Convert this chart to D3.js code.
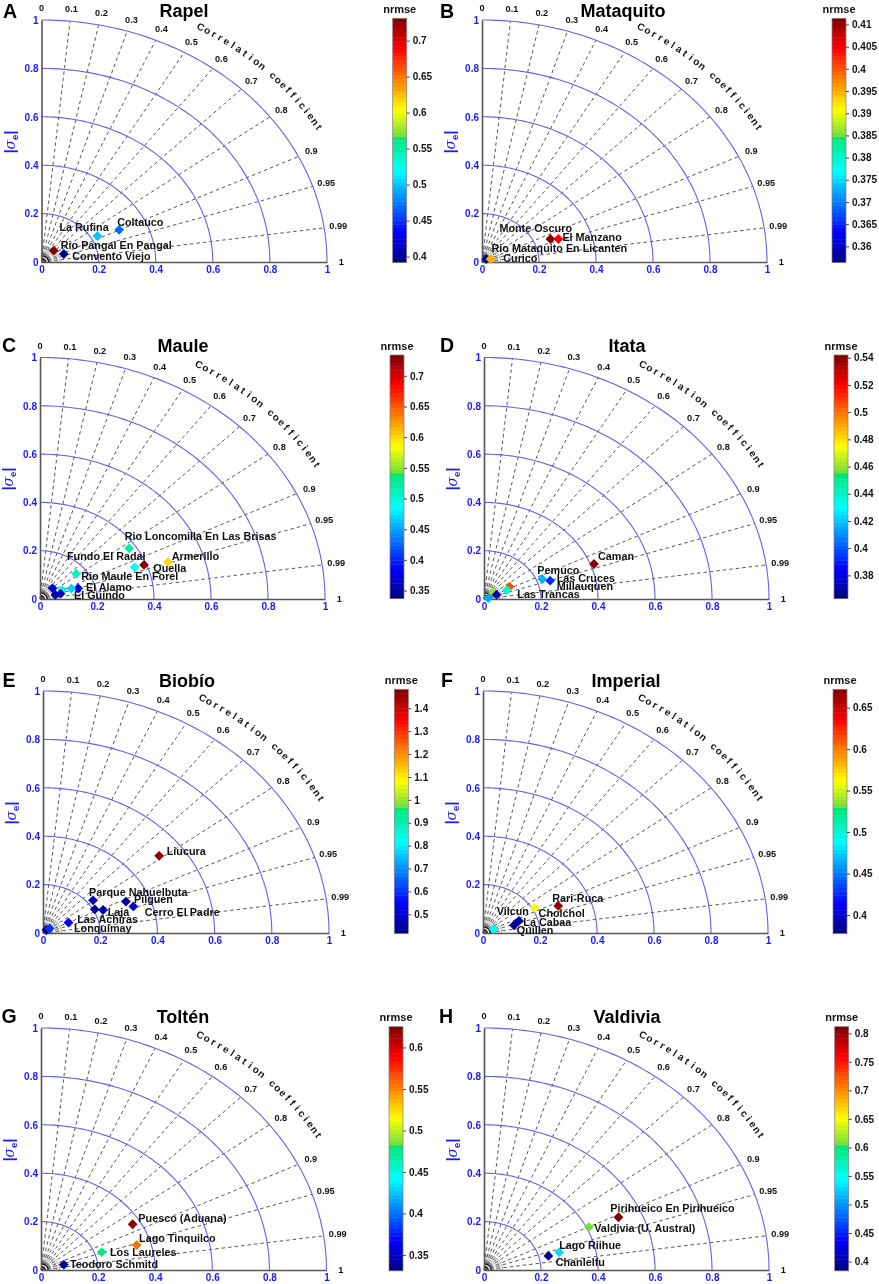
<!DOCTYPE html>
<html><head><meta charset="utf-8">
<script src="https://cdnjs.cloudflare.com/ajax/libs/d3/7.8.5/d3.min.js"></script>
<style>
html,body{margin:0;padding:0;background:#fff}
svg{display:block;filter:blur(0.35px)}
text{font-family:"Liberation Sans",Arial,sans-serif;font-weight:bold}
</style></head><body>
<script>
// ---------- chart values ----------
const sigmaTicks = [0, 0.2, 0.4, 0.6, 0.8, 1];
const corrTicks = [0, 0.1, 0.2, 0.3, 0.4, 0.5, 0.6, 0.7, 0.8, 0.9, 0.95, 0.99, 1];
const nearOriginRings = [0.015, 0.025, 0.035, 0.045, 0.055, 0.065];

const rapelNames = ["Coltauco", "La Rufina", "Rio Pangal En Pangal", "Convento Viejo"];
const rapelX = [0.272, 0.196, 0.043, 0.078];
const rapelY = [0.133, 0.107, 0.047, 0.033];
const rapelNrmse = [0.47, 0.50, 0.73, 0.393];
const rapelScale = [0.392, 0.731];
const rapelTicks = ["0.4", "0.45", "0.5", "0.55", "0.6", "0.65", "0.7"];

const mataquitoNames = ["Monte Oscuro", "El Manzano", "Curico", "Rio Mataquito En Licanten"];
const mataquitoX = [0.24, 0.268, 0.015, 0.03];
const mataquitoY = [0.095, 0.095, 0.012, 0.012];
const mataquitoNrmse = [0.411, 0.405, 0.357, 0.395];
const mataquitoScale = [0.3564, 0.4114];
const mataquitoTicks = ["0.36", "0.365", "0.37", "0.375", "0.38", "0.385", "0.39", "0.395", "0.4", "0.405", "0.41"];

const mauleNames = ["Rio Loncomilla En Las Brisas", "Fundo El Radal", "Armerillo", "Quella", "Rio Maule En Forel", "El Alamo", "El Guindo", "", "", "", ""];
const mauleX = [0.313, 0.332, 0.449, 0.365, 0.127, 0.134, 0.054, 0.077, 0.11, 0.044, 0.072];
const mauleY = [0.21, 0.131, 0.153, 0.141, 0.105, 0.044, 0.017, 0.037, 0.043, 0.044, 0.022];
const mauleNrmse = [0.52, 0.49, 0.6, 0.73, 0.51, 0.377, 0.345, 0.5, 0.468, 0.37, 0.36];
const mauleScale = [0.337, 0.734];
const mauleTicks = ["0.35", "0.4", "0.45", "0.5", "0.55", "0.6", "0.65", "0.7"];

const itataNames = ["Caman", "Pemuco", "Las Cruces", "Millauquen", "Las Trancas", "", "", ""];
const itataX = [0.386, 0.204, 0.232, 0.09, 0.08, 0.033, 0.044, 0.015];
const itataY = [0.145, 0.083, 0.076, 0.051, 0.037, 0.028, 0.018, 0.004];
const itataNrmse = [0.54, 0.417, 0.393, 0.506, 0.438, 0.46, 0.37, 0.415];
const itataScale = [0.363, 0.542];
const itataTicks = ["0.38", "0.4", "0.42", "0.44", "0.46", "0.48", "0.5", "0.52", "0.54"];

const biobioNames = ["Liucura", "Parque Nahuelbuta", "Pilguen", "Cerro El Padre", "Laja", "", "Las Achiras", "", "Lonquimay"];
const biobioX = [0.406, 0.175, 0.29, 0.316, 0.21, 0.181, 0.089, 0.012, 0.023];
const biobioY = [0.319, 0.135, 0.13, 0.11, 0.095, 0.098, 0.043, 0.012, 0.019];
const biobioNrmse = [1.47, 0.46, 0.46, 0.5, 0.46, 0.45, 0.55, 0.43, 0.6];
const biobioScale = [0.417, 1.483];
const biobioTicks = ["0.5", "0.6", "0.7", "0.8", "0.9", "1", "1.1", "1.2", "1.3", "1.4"];

const imperialNames = ["Rari-Ruca", "Cholchol", "La Cabaa", "Quillen", "Vilcun"];
const imperialX = [0.264, 0.181, 0.126, 0.109, 0.037];
const imperialY = [0.112, 0.105, 0.05, 0.032, 0.017];
const imperialNrmse = [0.665, 0.56, 0.39, 0.385, 0.493];
const imperialScale = [0.378, 0.672];
const imperialTicks = ["0.4", "0.45", "0.5", "0.55", "0.6", "0.65"];

const toltenNames = ["Puesco (Aduana)", "Lago Tinquilco", "Los Laureles", "Teodoro Schmitd"];
const toltenX = [0.321, 0.335, 0.213, 0.08];
const toltenY = [0.189, 0.103, 0.074, 0.022];
const toltenNrmse = [0.62, 0.557, 0.478, 0.34];
const toltenScale = [0.331, 0.625];
const toltenTicks = ["0.35", "0.4", "0.45", "0.5", "0.55", "0.6"];

const valdiviaNames = ["Pirihueico En Pirihueico", "Valdivia (U. Austral)", "Lago Riihue", "Chanlelfu"];
const valdiviaX = [0.472, 0.368, 0.264, 0.226];
const valdiviaY = [0.218, 0.177, 0.073, 0.058];
const valdiviaNrmse = [0.81, 0.606, 0.53, 0.39];
const valdiviaScale = [0.384, 0.8116];
const valdiviaTicks = ["0.4", "0.45", "0.5", "0.55", "0.6", "0.65", "0.7", "0.75", "0.8"];

// ---------- layout (pixels), separate from the values ----------
const labelOffsets = {
  A: [[-2,-8],[-38,-9],[7,-5],[8.5,2]],
  B: [[-51,-11],[4,-2],[17,-1],[1,-11]],
  C: [[-4.5,-11.6],[-67.6,-11.4],[3.7,-6],[9.3,3.3],[5,2.7],[7.8,-0.7],[18.6,0.8]],
  D: [[4,-7.7],[-4.8,-9],[6.6,-2.6],[47,-0.7],[10.5,4]],
  E: [[7.6,-4.5],[-4,-8.6],[8,-2.2],[11.3,6.3],[4.7,2.7],[0,0],[8.8,-2.9],[0,0],[24.4,-0.4]],
  F: [[-6,-8],[4,5.4],[4.4,1],[2.7,5.4],[3.2,-17.6]],
  G: [[5.7,-6.3],[2.4,-6.7],[8.2,0.6],[6.2,0]],
  H: [[-8.2,-8.9],[5.4,1.5],[0,-7.3],[7.3,6.7]]
};
const panels = [
 {id:"A",title:"Rapel",names:rapelNames,xs:rapelX,ys:rapelY,nr:rapelNrmse,dom:rapelScale,ticks:rapelTicks,x0:41.5,y0:262,rx:285.5,ry:242,cbx:392.7,cbT:18.3,cbB:262.3,lx:10,ly:18,tx:184,ty:17},
 {id:"B",title:"Mataquito",names:mataquitoNames,xs:mataquitoX,ys:mataquitoY,nr:mataquitoNrmse,dom:mataquitoScale,ticks:mataquitoTicks,x0:482,y0:262,rx:285,ry:242,cbx:832,cbT:18.3,cbB:262.3,lx:447,ly:18,tx:623,ty:17},
 {id:"C",title:"Maule",names:mauleNames,xs:mauleX,ys:mauleY,nr:mauleNrmse,dom:mauleScale,ticks:mauleTicks,x0:40,y0:599,rx:285,ry:241.5,cbx:390,cbT:355,cbB:598.5,lx:9,ly:352,tx:183,ty:352},
 {id:"D",title:"Itata",names:itataNames,xs:itataX,ys:itataY,nr:itataNrmse,dom:itataScale,ticks:itataTicks,x0:484,y0:599,rx:285,ry:241.5,cbx:834,cbT:355,cbB:598.5,lx:447,ly:352,tx:627,ty:352},
 {id:"E",title:"Biobío",names:biobioNames,xs:biobioX,ys:biobioY,nr:biobioNrmse,dom:biobioScale,ticks:biobioTicks,x0:43,y0:933,rx:286,ry:242,cbx:394.3,cbT:689.3,cbB:933.3,lx:9,ly:687,tx:187,ty:687},
 {id:"F",title:"Imperial",names:imperialNames,xs:imperialX,ys:imperialY,nr:imperialNrmse,dom:imperialScale,ticks:imperialTicks,x0:483,y0:933,rx:285,ry:242,cbx:833,cbT:689.3,cbB:933.3,lx:447,ly:687,tx:626,ty:687},
 {id:"G",title:"Toltén",names:toltenNames,xs:toltenX,ys:toltenY,nr:toltenNrmse,dom:toltenScale,ticks:toltenTicks,x0:41,y0:1270,rx:285.5,ry:242,cbx:389,cbT:1026.7,cbB:1270.7,lx:9,ly:1023,tx:183,ty:1023},
 {id:"H",title:"Valdivia",names:valdiviaNames,xs:valdiviaX,ys:valdiviaY,nr:valdiviaNrmse,dom:valdiviaScale,ticks:valdiviaTicks,x0:484,y0:1270,rx:285,ry:242,cbx:834.7,cbT:1026.7,cbB:1270.7,lx:446,ly:1023,tx:627,ty:1023}
];

const blue = "#1a1aff", arcBlue = "#6262ee", rayGrey = "#555";
const colorPos = [0, 0.125, 0.375, 0.51, 0.515, 0.625, 0.875, 1];
const colorVal = ["#00007f", "#0000ff", "#00ffff", "#00e878", "#70dc40", "#ffff00", "#ff0000", "#7f0000"];
const jet = d3.scaleLinear().domain(colorPos).range(colorVal).clamp(true);

const svg = d3.select("body").append("svg").attr("width", 879).attr("height", 1284);
const caption = "Correlation coefficient";

panels.forEach(p => {
  const g = svg.append("g");
  const x = d3.scaleLinear().domain([0, 1]).range([p.x0, p.x0 + p.rx]);
  const y = d3.scaleLinear().domain([0, 1]).range([p.y0, p.y0 - p.ry]);
  const arc = d3.line().x(t => x(t[0] * Math.cos(t[1]))).y(t => y(t[0] * Math.sin(t[1])));
  const angles = d3.range(0, 90.01, 1).map(d => d * Math.PI / 180);

  // panel letter and title
  g.append("text").attr("x", p.lx).attr("y", p.ly).attr("text-anchor", "middle")
    .attr("font-size", 19.5).text(p.id);
  g.append("text").attr("x", p.tx).attr("y", p.ty).attr("text-anchor", "middle")
    .attr("font-size", 18).text(p.title);

  // correlation rays
  g.selectAll(".ray").data(corrTicks.filter(c => c > 0 && c < 1)).enter().append("line")
    .attr("x1", x(0)).attr("y1", y(0))
    .attr("x2", c => x(c)).attr("y2", c => y(Math.sqrt(1 - c * c)))
    .attr("stroke", rayGrey).attr("stroke-width", 1).attr("stroke-dasharray", "3.5,3");

  // sigma arcs
  g.selectAll(".arc").data(sigmaTicks.slice(1)).enter().append("path")
    .attr("d", s => arc(angles.map(a => [s, a])))
    .attr("fill", "none").attr("stroke", arcBlue).attr("stroke-width", 1.1);

  // small rings near the origin
  g.selectAll(".ring").data(nearOriginRings).enter().append("path")
    .attr("d", s => arc(angles.map(a => [s, a])))
    .attr("fill", "none")
    .attr("stroke", (s, i) => i < 2 ? "#111" : "#888")
    .attr("stroke-width", (s, i) => i < 2 ? 1.3 : 1);

  // axes
  const xAxis = d3.axisBottom(x).tickValues(sigmaTicks).tickSize(0).tickPadding(4).tickFormat(d => String(d));
  const yAxis = d3.axisLeft(y).tickValues(sigmaTicks).tickSize(0).tickPadding(3).tickFormat(d => String(d));
  const ax = g.append("g").attr("transform", `translate(0,${p.y0})`).call(xAxis);
  const ay = g.append("g").attr("transform", `translate(${p.x0},0)`).call(yAxis);
  [ax, ay].forEach(a => {
    a.selectAll("path").attr("stroke", "#555").attr("stroke-width", 1.6);
    a.selectAll("text").attr("fill", blue).attr("font-size", 10)
      .style("font-family", '"Liberation Sans",Arial,sans-serif').style("font-weight", "bold");
  });

  // sigma axis title
  const yt = g.append("text")
    .attr("transform", `translate(${p.x0 - 27},${p.y0 - 120}) rotate(-90)`)
    .attr("text-anchor", "middle").attr("fill", blue).attr("font-size", 14);
  yt.append("tspan").text("|");
  yt.append("tspan").attr("font-style", "italic").attr("font-family", "DejaVu Serif").attr("font-weight", "normal").text("σ");
  yt.append("tspan").attr("font-size", 9.5).attr("dy", 3).text("e");
  yt.append("tspan").attr("dy", -3).text("|");

  // correlation tick labels
  g.selectAll(".ct").data(corrTicks).enter().append("text")
    .attr("x", c => x(1.05 * c)).attr("y", c => y(1.05 * Math.sqrt(1 - c * c)))
    .attr("dy", "0.35em").attr("text-anchor", "middle").attr("font-size", 9.2).attr("fill", "#111")
    .text(c => c);

  // curved caption, one letter at a time
  const chars = caption.split("");
  const ang = d3.scaleLinear().domain([0, chars.length - 1]).range([60.1, 29.8]);
  g.selectAll(".cap").data(chars).enter().append("text")
    .attr("font-size", 10).attr("fill", "#111").attr("text-anchor", "middle").attr("dy", "0.35em")
    .attr("transform", (c, i) => {
      const a = ang(i) * Math.PI / 180;
      const px = x(1.12 * Math.cos(a)), py = y(1.12 * Math.sin(a));
      const rot = Math.atan2(p.ry * Math.cos(a), p.rx * Math.sin(a)) * 180 / Math.PI;
      return `translate(${px},${py}) rotate(${rot})`;
    }).text(c => c);

  // colour bar
  const cbScale = d3.scaleLinear().domain(p.dom).range([p.cbB, p.cbT]);
  const cbNorm = d3.scaleLinear().domain(p.dom).range([0, 1]);
  const bands = d3.range(64);
  const bh = (p.cbB - p.cbT) / 64;
  g.selectAll(".band").data(bands).enter().append("rect")
    .attr("x", p.cbx).attr("width", 14)
    .attr("y", i => p.cbB - (i + 1) * bh).attr("height", bh + 0.4)
    .attr("fill", i => jet((i + 0.5) / 64));
  g.append("rect").attr("x", p.cbx).attr("y", p.cbT).attr("width", 14).attr("height", p.cbB - p.cbT)
    .attr("fill", "none").attr("stroke", "#8a7a80").attr("stroke-width", 0.7);
  const cbAxis = d3.axisRight(cbScale).tickValues(p.ticks.map(Number)).tickSize(3).tickPadding(3)
    .tickFormat((d, i) => p.ticks[i]);
  const ca = g.append("g").attr("transform", `translate(${p.cbx + 14},0)`).call(cbAxis);
  ca.select("path").remove();
  ca.selectAll("line").attr("stroke", "#444");
  ca.selectAll("text").attr("fill", "#111").attr("font-size", 10)
    .style("font-family", '"Liberation Sans",Arial,sans-serif').style("font-weight", "bold");
  g.append("text").attr("x", p.cbx + 7).attr("y", p.cbT - 5.5).attr("text-anchor", "middle")
    .attr("font-size", 11).attr("fill", "#111").text("nrmse");

  // stations
  const sym = d3.symbol().type(d3.symbolSquare).size(48)();
  const idx = d3.range(p.xs.length);
  g.selectAll(".pt").data(idx).enter().append("path")
    .attr("d", sym)
    .attr("transform", i => `translate(${x(p.xs[i])},${y(p.ys[i])}) rotate(45)`)
    .attr("fill", i => jet(cbNorm(p.nr[i])));
  g.selectAll(".lab").data(idx.filter(i => p.names[i])).enter().append("text")
    .attr("x", i => x(p.xs[i]) + labelOffsets[p.id][i][0])
    .attr("y", i => y(p.ys[i]) + labelOffsets[p.id][i][1])
    .attr("dy", "0.35em").attr("font-size", 10.8).attr("fill", "#111")
    .text(i => p.names[i]);
});
</script>
</body></html>
